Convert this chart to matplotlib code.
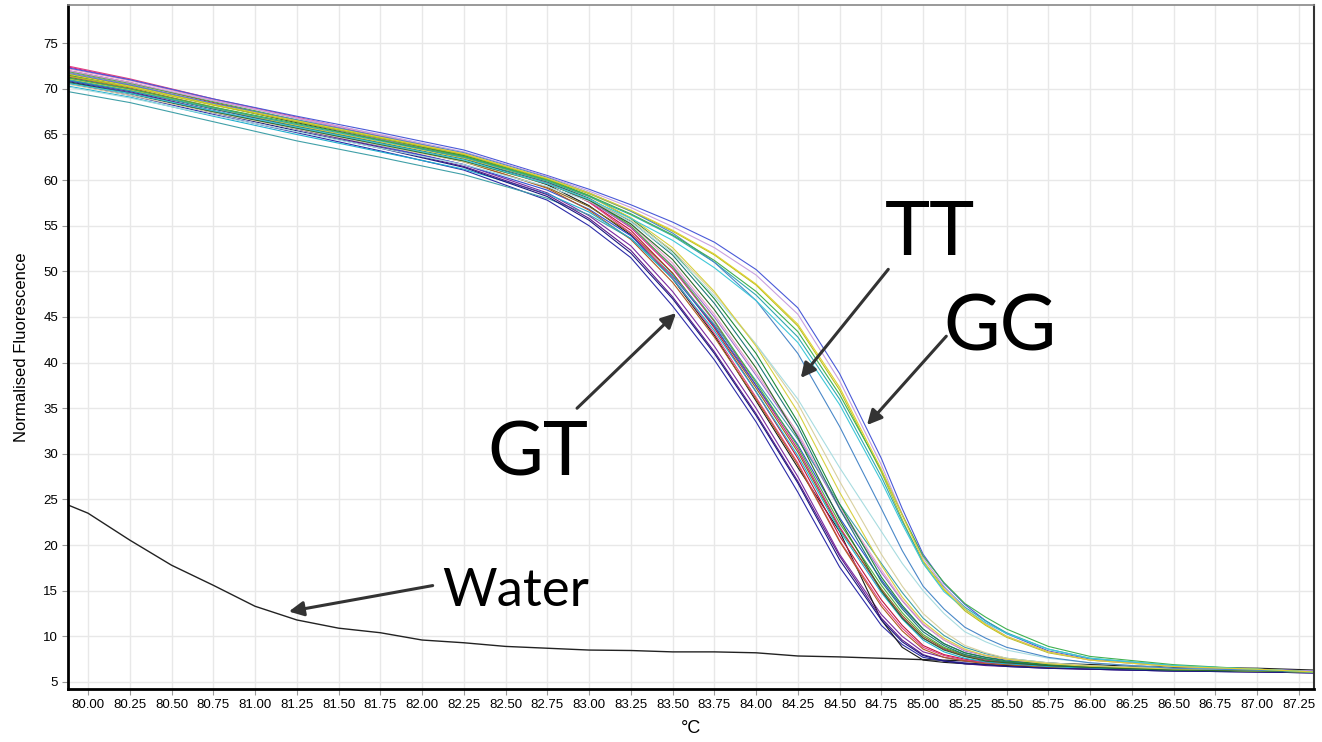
import matplotlib.pyplot as plt
from matplotlib.ticker import MultipleLocator, FormatStrFormatter

# temperature grid shared by the melt curves (deg C)
temps = [79.88, 80.25, 80.75, 81.25, 81.75, 82.25, 82.75, 83.0, 83.25, 83.5, 83.75,
         84.0, 84.25, 84.5, 84.75, 84.875, 85.0, 85.125, 85.25, 85.375, 85.5,
         85.75, 86.0, 86.5, 87.0, 87.34]

# GT genotype curves (earliest melting bundle)
gt_curves = [
    [70.6, 69.3, 67.2, 65.2, 63.2, 61.1, 57.8, 55.0, 51.5, 46.2, 40.3, 33.5, 25.8, 17.6, 11.2, 9.1, 7.7, 7.3, 7.1, 6.95, 6.8, 6.6, 6.4, 6.2, 6.1, 6.0],
    [71.3, 70.0, 67.8, 65.8, 63.8, 61.7, 58.6, 56.1, 52.8, 47.8, 41.8, 35.0, 27.5, 19.0, 12.4, 10.0, 8.3, 7.7, 7.3, 7.1, 6.9, 6.7, 6.5, 6.3, 6.2, 6.1],
    [71.6, 70.4, 68.3, 66.3, 64.4, 62.4, 59.5, 57.2, 54.0, 49.2, 43.0, 35.8, 28.5, 21.5, 11.8, 8.8, 7.4, 7.15, 7.0, 6.9, 6.8, 6.6, 6.5, 6.3, 6.2, 6.1],
    [72.0, 70.7, 68.5, 66.5, 64.6, 62.6, 59.8, 57.6, 54.5, 49.8, 43.8, 36.8, 29.5, 21.0, 14.0, 11.2, 9.0, 8.0, 7.5, 7.2, 7.0, 6.7, 6.5, 6.3, 6.2, 6.1],
    [72.4, 71.0, 68.8, 66.8, 64.8, 62.8, 59.9, 57.8, 54.8, 50.3, 44.5, 37.5, 30.5, 22.0, 15.0, 12.1, 9.8, 8.6, 7.8, 7.4, 7.1, 6.8, 6.6, 6.3, 6.2, 6.1],
    [71.2, 69.9, 67.9, 65.9, 64.0, 62.0, 59.2, 57.1, 54.2, 49.8, 44.0, 37.2, 30.2, 21.8, 15.2, 12.3, 10.0, 8.7, 7.9, 7.5, 7.2, 6.9, 6.6, 6.3, 6.2, 6.1],
    [70.9, 69.6, 67.6, 65.6, 63.7, 61.7, 58.9, 56.8, 53.9, 49.5, 44.0, 37.5, 31.0, 23.0, 16.2, 13.2, 10.8, 9.2, 8.2, 7.7, 7.4, 7.0, 6.7, 6.4, 6.2, 6.1],
    [71.8, 70.5, 68.4, 66.4, 64.5, 62.5, 59.7, 57.7, 54.9, 50.6, 45.0, 38.6, 32.0, 24.0, 17.0, 13.9, 11.3, 9.6, 8.4, 7.9, 7.5, 7.0, 6.7, 6.4, 6.2, 6.1],
    [69.7, 68.5, 66.4, 64.3, 62.5, 60.6, 58.0, 56.2, 53.6, 49.6, 44.2, 38.0, 31.6, 24.5, 18.0, 14.8, 12.0, 10.1, 8.8, 8.1, 7.6, 7.1, 6.8, 6.4, 6.2, 6.1],
    [72.5, 71.1, 68.9, 66.9, 64.9, 62.9, 60.0, 57.6, 54.2, 49.3, 43.2, 36.2, 29.0, 20.5, 13.6, 10.9, 8.8, 7.9, 7.4, 7.15, 7.0, 6.7, 6.5, 6.3, 6.2, 6.1],
    [71.4, 70.1, 68.0, 66.0, 64.1, 62.1, 59.1, 56.7, 53.5, 48.8, 42.8, 36.0, 28.8, 20.4, 13.3, 10.6, 8.6, 7.7, 7.3, 7.0, 6.9, 6.6, 6.5, 6.3, 6.2, 6.1],
    [71.9, 70.6, 68.6, 66.6, 64.7, 62.7, 59.9, 57.9, 55.0, 50.5, 44.6, 37.8, 30.8, 22.4, 15.6, 12.6, 10.2, 8.8, 8.0, 7.5, 7.2, 6.9, 6.6, 6.3, 6.2, 6.1],
    [70.3, 69.1, 67.0, 65.0, 63.1, 61.2, 58.5, 56.5, 53.6, 49.2, 43.5, 36.8, 29.8, 21.6, 14.8, 11.9, 9.6, 8.3, 7.6, 7.2, 7.0, 6.7, 6.5, 6.3, 6.2, 6.1],
    [71.0, 69.7, 67.6, 65.6, 63.6, 61.5, 58.4, 55.8, 52.3, 47.2, 41.2, 34.4, 27.0, 18.8, 12.0, 9.6, 8.0, 7.3, 7.0, 6.8, 6.7, 6.5, 6.4, 6.2, 6.1, 6.0],
    [72.2, 70.9, 68.8, 66.8, 64.9, 62.9, 60.0, 58.0, 55.2, 50.9, 45.3, 38.9, 32.3, 24.2, 17.3, 14.0, 11.4, 9.6, 8.5, 7.9, 7.5, 7.0, 6.7, 6.4, 6.2, 6.1],
    [70.8, 69.5, 67.4, 65.4, 63.5, 61.4, 58.2, 55.6, 52.0, 47.0, 41.0, 34.2, 26.8, 18.4, 11.8, 9.4, 7.9, 7.3, 7.0, 6.9, 6.7, 6.5, 6.4, 6.2, 6.1, 6.0],
]
gt_colors = ["#2b2ba8", "#7a2aa0", "#1a1a1a", "#c0143c", "#d4148c", "#8a6a20",
             "#3050d0", "#a070d0", "#40a0a8", "#e04080", "#b05a20", "#50b040",
             "#20b0d0", "#5a1a8a", "#e8a0c8", "#1a1a80"]

# TT genotype curves (middle)
tt_curves = [
    [71.5, 70.3, 68.3, 66.4, 64.6, 62.7, 60.1, 58.3, 55.8, 52.2, 47.0, 41.0, 33.5, 24.5, 16.5, 13.4, 10.8, 9.2, 8.2, 7.7, 7.3, 6.9, 6.7, 6.4, 6.2, 6.1],
    [71.0, 69.8, 67.8, 65.9, 64.1, 62.3, 59.8, 58.0, 55.5, 51.8, 46.5, 40.2, 33.0, 24.0, 16.0, 13.0, 10.5, 9.0, 8.0, 7.55, 7.2, 6.8, 6.6, 6.3, 6.2, 6.1],
    [70.5, 69.3, 67.4, 65.6, 63.8, 62.0, 59.6, 57.9, 55.6, 52.3, 47.6, 42.0, 35.5, 27.0, 19.0, 15.5, 12.5, 10.5, 9.0, 8.2, 7.6, 7.1, 6.8, 6.4, 6.2, 6.1],
    [70.2, 69.0, 67.1, 65.3, 63.5, 61.7, 59.3, 57.7, 55.4, 52.0, 47.3, 42.0, 36.0, 28.5, 21.5, 18.0, 15.0, 12.5, 10.5, 9.4, 8.5, 7.6, 7.1, 6.5, 6.3, 6.1],
    [71.1, 69.9, 67.9, 66.0, 64.2, 62.4, 59.9, 58.2, 55.9, 52.6, 47.8, 41.8, 34.6, 25.8, 17.8, 14.3, 11.6, 9.8, 8.6, 7.9, 7.5, 7.0, 6.7, 6.4, 6.2, 6.1],
    [70.7, 69.5, 67.5, 65.7, 63.9, 62.1, 59.6, 57.8, 55.2, 51.3, 45.8, 39.4, 31.8, 22.8, 15.0, 12.0, 9.8, 8.5, 7.8, 7.3, 7.1, 6.8, 6.6, 6.3, 6.2, 6.1],
]
tt_colors = ["#1f8a3a", "#207878", "#d8d0a0", "#a8dce0", "#d8d040", "#2a6a2a"]

# GG genotype curves (latest melting)
gg_curves = [
    [72.3, 71.0, 68.9, 67.0, 65.2, 63.3, 60.5, 59.0, 57.3, 55.4, 53.2, 50.2, 46.0, 38.8, 29.5, 24.0, 19.0, 15.8, 13.5, 11.7, 10.3, 8.4, 7.5, 6.7, 6.4, 6.2],
    [71.4, 70.2, 68.2, 66.4, 64.6, 62.8, 60.1, 58.5, 56.6, 54.4, 51.8, 48.5, 44.0, 37.0, 28.0, 22.8, 18.0, 15.1, 12.8, 11.2, 9.9, 8.2, 7.4, 6.7, 6.4, 6.1],
    [71.0, 69.8, 67.9, 66.1, 64.3, 62.5, 59.9, 58.2, 56.2, 53.9, 51.0, 47.4, 42.8, 36.0, 27.5, 22.6, 18.2, 15.4, 13.2, 11.7, 10.4, 8.6, 7.6, 6.8, 6.4, 6.1],
    [72.0, 70.7, 68.7, 66.8, 65.0, 63.1, 60.4, 58.8, 57.0, 54.9, 52.6, 49.6, 45.3, 38.0, 28.8, 23.4, 18.6, 15.5, 13.0, 11.4, 10.0, 8.3, 7.4, 6.7, 6.4, 6.2],
    [71.7, 70.4, 68.4, 66.6, 64.8, 63.0, 60.3, 58.6, 56.6, 54.2, 51.0, 46.8, 41.0, 33.0, 24.0, 19.4, 15.5, 13.0, 11.0, 9.8, 8.8, 7.7, 7.1, 6.5, 6.3, 6.1],
    [71.2, 70.0, 68.0, 66.2, 64.4, 62.6, 60.0, 58.3, 56.3, 54.0, 51.2, 47.8, 43.4, 36.5, 28.2, 23.3, 18.8, 15.9, 13.6, 12.1, 10.8, 8.9, 7.8, 6.9, 6.4, 6.1],
    [70.6, 69.5, 67.6, 65.8, 64.0, 62.2, 59.6, 57.9, 55.8, 53.4, 50.4, 46.8, 42.2, 35.4, 27.0, 22.3, 18.0, 14.9, 13.0, 11.5, 10.3, 8.6, 7.6, 6.8, 6.4, 6.1],
    [71.6, 70.3, 68.3, 66.5, 64.7, 62.9, 60.2, 58.6, 56.7, 54.5, 51.9, 48.6, 44.2, 37.3, 28.3, 23.3, 18.3, 15.2, 13.0, 11.3, 10.0, 8.3, 7.4, 6.7, 6.4, 6.1],
]
gg_colors = ["#4a5ad8", "#b8c020", "#30a8b0", "#c8a0e0", "#4a88c8", "#40b050",
             "#40c8d8", "#e0d030"]

# no-template control
water_t = [79.88, 80.0, 80.25, 80.5, 80.75, 81.0, 81.25, 81.5, 81.75, 82.0, 82.25, 82.5,
           82.75, 83.0, 83.25, 83.5, 83.75, 84.0, 84.25, 84.5, 84.75, 85.0, 85.5, 86.0,
           86.5, 87.0, 87.34]
water_y = [24.4, 23.5, 20.55, 17.8, 15.6, 13.3, 11.8, 10.9, 10.4, 9.6, 9.3, 8.9,
           8.7, 8.5, 8.45, 8.3, 8.3, 8.2, 7.85, 7.75, 7.6, 7.45, 7.2, 6.9,
           6.6, 6.5, 6.3]

fig = plt.figure(figsize=(13.22, 7.42), dpi=100)
ax = fig.add_axes([0.0514, 0.0714, 0.9425, 0.922])

ax.plot(water_t, water_y, color="#222222", lw=1.0)
for ys, c in zip(gt_curves, gt_colors):
    ax.plot(temps, ys, color=c, lw=0.8)
for ys, c in zip(tt_curves, tt_colors):
    ax.plot(temps, ys, color=c, lw=0.8)
for ys, c in zip(gg_curves, gg_colors):
    ax.plot(temps, ys, color=c, lw=0.8)

ax.set_xlim(79.88, 87.34)
ax.set_ylim(4.23, 79.2)
ax.xaxis.set_major_locator(MultipleLocator(0.25))
ax.xaxis.set_major_formatter(FormatStrFormatter("%.2f"))
ax.yaxis.set_major_locator(MultipleLocator(5))
ax.grid(True, color="#e8e8e8", lw=1.0)
ax.set_axisbelow(True)
ax.tick_params(labelsize=9.5, length=4, color="#999999", pad=3)
for lab in ax.get_xticklabels() + ax.get_yticklabels():
    lab.set_family("Liberation Sans")

ax.spines["left"].set_linewidth(2)
ax.spines["bottom"].set_linewidth(2)
ax.spines["top"].set_color("#888888")
ax.spines["top"].set_linewidth(1.2)
ax.spines["right"].set_color("#333333")
ax.spines["right"].set_linewidth(1.5)

ax.set_ylabel("Normalised Fluorescence", fontsize=12, family="Liberation Sans")
ax.set_xlabel("°C", fontsize=13, family="Liberation Sans")
ax.yaxis.set_label_coords(-0.031, 0.5)
ax.xaxis.set_label_coords(0.5, -0.045)

arrow = dict(arrowstyle="-|>", color="#333333", lw=2.2, mutation_scale=22)
ax.annotate("", xy=(81.186, 12.67), xytext=(82.08, 15.62), arrowprops=arrow)
ax.annotate("", xy=(83.533, 45.64), xytext=(82.916, 34.79), arrowprops=arrow)
ax.annotate("", xy=(84.257, 38.08), xytext=(84.802, 50.46), arrowprops=arrow)
ax.annotate("", xy=(84.653, 32.93), xytext=(85.150, 43.12), arrowprops=arrow)

big = dict(family="Lato", color="black", ha="center", va="baseline")
ax.text(82.695, 27.67, "GT", fontsize=55, **big)
ax.text(85.042, 51.77, "TT", fontsize=55, **big)
ax.text(85.461, 41.36, "GG", fontsize=56, **big)
ax.text(82.560, 13.32, "Water", fontsize=38, **big)

fig.savefig("out.png", dpi=100)
